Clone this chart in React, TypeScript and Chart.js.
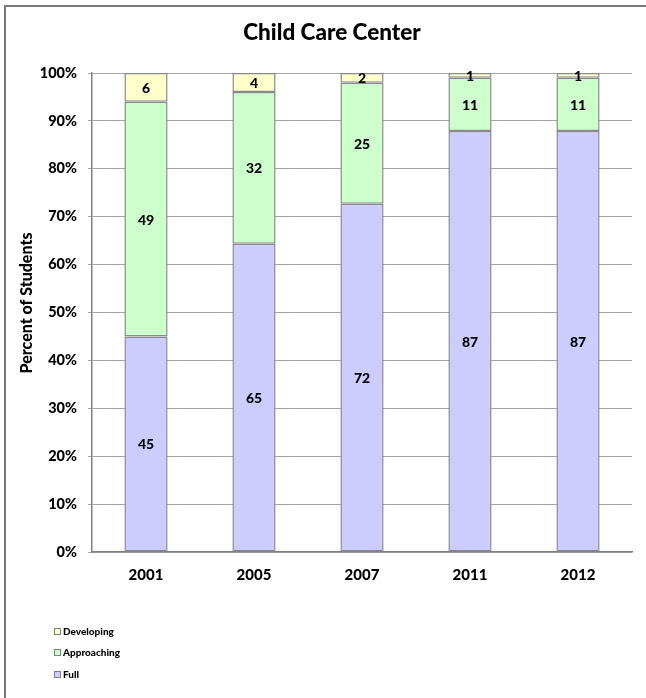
import React, { useEffect, useRef } from "react";
import { Chart, registerables } from "chart.js";

Chart.register(...registerables);

const categories = ["2001", "2005", "2007", "2011", "2012"];
const fullValues = [45, 65, 72, 87, 87];
const approachingValues = [49, 32, 25, 11, 11];
const developingValues = [6, 4, 2, 1, 1];
const yTickLabels = ["0%", "10%", "20%", "30%", "40%", "50%", "60%", "70%", "80%", "90%", "100%"];
const titleText = "Child Care Center";
const yTitleText = "Percent of Students";

const FONT = "Lato, 'Open Sans', sans-serif";
const W = "900";

const totals = categories.map((_, i) => fullValues[i] + approachingValues[i] + developingValues[i]);
const pct = (arr: number[]) => arr.map((v, i) => (v / totals[i]) * 100);

const rawByDataset = [fullValues, approachingValues, developingValues];

const framePlugin = {
  id: "frame",
  beforeDraw(chart: any) {
    const ctx = chart.ctx;
    ctx.save();
    ctx.fillStyle = "#ffffff";
    ctx.fillRect(0, 0, chart.width, chart.height);
    ctx.strokeStyle = "#777777";
    ctx.lineWidth = 2;
    ctx.strokeRect(5, 6, chart.width + 20, chart.height + 20);
    ctx.restore();
  },
};

const titlesPlugin = {
  id: "titles",
  afterDraw(chart: any) {
    const ctx = chart.ctx;
    ctx.save();
    ctx.fillStyle = "#000000";
    ctx.textAlign = "center";
    ctx.textBaseline = "alphabetic";
    ctx.font = `${W} 22.5px ${FONT}`;
    ctx.fillText(titleText, 332, 40);
    ctx.translate(32, 303);
    ctx.rotate(-Math.PI / 2);
    ctx.font = `${W} 16px ${FONT}`;
    ctx.fillText(yTitleText, 0, 0);
    ctx.restore();
  },
};

const labelPlugin = {
  id: "valueLabels",
  afterDatasetsDraw(chart: any) {
    const ctx = chart.ctx;
    ctx.save();
    ctx.font = `${W} 14px ${FONT}`;
    ctx.fillStyle = "#000000";
    ctx.textAlign = "center";
    ctx.textBaseline = "middle";
    chart.data.datasets.forEach((ds: any, di: number) => {
      const meta = chart.getDatasetMeta(di);
      meta.data.forEach((bar: any, i: number) => {
        const yc = (bar.y + bar.base) / 2;
        ctx.fillText(String(rawByDataset[di][i]), bar.x, yc + 1);
      });
    });
    ctx.restore();
  },
};

const legendPlugin = {
  id: "customLegend",
  afterDraw(chart: any) {
    const ctx = chart.ctx;
    const items = [
      { label: "Developing", color: "#ffffcc", y: 632 },
      { label: "Approaching", color: "#ccffcc", y: 653 },
      { label: "Full", color: "#ccccff", y: 675 },
    ];
    ctx.save();
    ctx.font = `${W} 10px ${FONT}`;
    ctx.textBaseline = "middle";
    ctx.textAlign = "left";
    items.forEach((it) => {
      ctx.fillStyle = it.color;
      ctx.fillRect(54.5, it.y - 3.5, 6, 6);
      ctx.strokeStyle = "#808080";
      ctx.lineWidth = 1;
      ctx.strokeRect(54.5, it.y - 3.5, 6, 6);
      ctx.fillStyle = "#000000";
      ctx.fillText(it.label, 63, it.y);
    });
    ctx.restore();
  },
};

export default function App() {
  const canvasRef = useRef<HTMLCanvasElement | null>(null);

  useEffect(() => {
    document.body.style.margin = "0";
    const canvas = canvasRef.current;
    if (!canvas) return;
    const barCommon = {
      borderColor: "#8a8a8a",
      borderWidth: 1.5,
      borderSkipped: false as const,
      categoryPercentage: 1,
      barPercentage: 0.4,
    };
    const chart = new Chart(canvas, {
      type: "bar",
      data: {
        labels: categories,
        datasets: [
          { label: "Full", data: pct(fullValues), backgroundColor: "#ccccff", ...barCommon },
          { label: "Approaching", data: pct(approachingValues), backgroundColor: "#ccffcc", ...barCommon },
          { label: "Developing", data: pct(developingValues), backgroundColor: "#ffffcc", ...barCommon },
        ],
      },
      options: {
        animation: false,
        responsive: false,
        maintainAspectRatio: false,
        layout: { padding: { left: 10, right: 14, top: 73, bottom: 106 } },
        plugins: {
          legend: { display: false },
          tooltip: { enabled: false },
          title: { display: false },
        },
        scales: {
          x: {
            stacked: true,
            grid: { display: false, drawTicks: false },
            border: { display: true, color: "#808080", width: 1.5 },
            ticks: {
              color: "#000000",
              font: { family: FONT, size: 15, weight: W },
              padding: 14,
            },
            afterFit: (scale: any) => {
              scale.height = 40;
            },
          },
          y: {
            stacked: true,
            min: 0,
            max: 100,
            grid: { color: "#a6a6a6", lineWidth: 1, tickLength: 4, drawTicks: true },
            border: { display: true, color: "#808080", width: 1.5 },
            ticks: {
              stepSize: 10,
              color: "#000000",
              font: { family: FONT, size: 14.5, weight: W },
              padding: 11,
              callback: (_v: any, i: number) => yTickLabels[i],
            },
            title: { display: false },
            afterFit: (scale: any) => {
              scale.width = 82;
            },
          },
        },
      },
      plugins: [framePlugin, labelPlugin, titlesPlugin, legendPlugin],
    });
    return () => chart.destroy();
  }, []);

  return <canvas ref={canvasRef} width={646} height={698} style={{ display: "block" }} />;
}
